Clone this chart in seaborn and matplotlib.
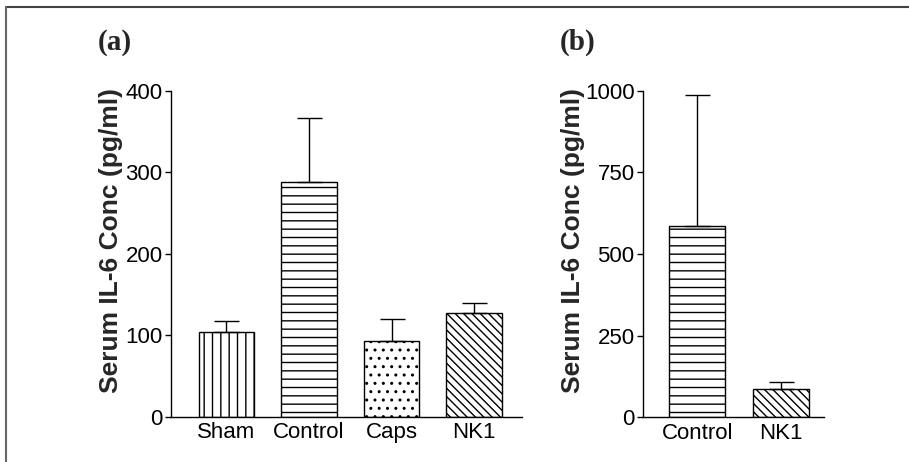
import matplotlib
matplotlib.use("Agg")
import matplotlib.pyplot as plt
import seaborn as sns
import pandas as pd
import numpy as np

# ---- data ----
groups_a = ["Sham", "Control", "Caps", "NK1"]
means_a = [104, 288, 93, 127]
upper_a = [118, 366, 120, 139]
hatches_a = ["||", "--", "..", "\\\\\\\\"]

groups_b = ["Control", "NK1"]
means_b = [586, 86]
upper_b = [988, 107]
hatches_b = ["--", "\\\\\\\\"]

yticks_a = [0, 100, 200, 300, 400]
yticks_b = [0, 250, 500, 750, 1000]
ylabel = "Serum IL-6 Conc (pg/ml)"

sns.set_theme(style="ticks")
plt.rcParams["font.family"] = ["Liberation Sans", "DejaVu Sans"]
plt.rcParams["hatch.linewidth"] = 1.0
plt.rcParams["hatch.color"] = "black"

fig = plt.figure(figsize=(9.09, 4.62), dpi=100)
fig.patch.set_facecolor("white")

ax_a = fig.add_axes([171 / 909, 45.3 / 462, 351 / 909, 326 / 462])
ax_b = fig.add_axes([643 / 909, 44.7 / 462, 181.3 / 909, 326.6 / 462])


def panel(ax, groups, means, upper, hatches, yticks, xlim, label_x):
    df = pd.DataFrame({"group": groups, "value": means})
    sns.barplot(data=df, x="group", y="value", order=groups, color="white",
                edgecolor="black", linewidth=1.0, width=0.67, ax=ax,
                errorbar=None, saturation=1)
    for patch, h in zip(ax.patches, hatches):
        patch.set_hatch(h)
        patch.set_facecolor("white")
        patch.set_edgecolor("black")
    xs = np.arange(len(groups))
    err = np.array(upper) - np.array(means)
    ax.errorbar(xs, means, yerr=[np.zeros(len(means)), err], fmt="none",
                ecolor="black", elinewidth=1.0, capsize=9, capthick=1.0,
                zorder=3)
    ax.set_ylim(yticks[0], yticks[-1])
    ax.set_yticks(yticks)
    ax.set_xlim(*xlim)
    ax.set_xlabel("")
    ax.set_ylabel(ylabel, fontsize=19, fontweight="bold", va="center")
    ax.yaxis.set_label_coords(label_x, 0.542)
    ax.tick_params(axis="y", length=4, width=1.0, labelsize=16, pad=2,
                   colors="black")
    ax.tick_params(axis="x", length=0, labelsize=16, pad=4, colors="black")
    for s in ["top", "right"]:
        ax.spines[s].set_visible(False)
    for s in ["left", "bottom"]:
        ax.spines[s].set_linewidth(1.0)
        ax.spines[s].set_color("black")
    ax.set_facecolor("white")


panel(ax_a, groups_a, means_a, upper_a, hatches_a, yticks_a, (-0.67, 3.58), -0.172)
panel(ax_b, groups_b, means_b, upper_b, hatches_b, yticks_b, (-0.65, 1.52), -0.385)

fig.text(115 / 909, 1 - 42 / 462, "(a)", ha="center", va="center", fontsize=21,
         fontweight="bold", family=["Liberation Serif", "DejaVu Serif"])
fig.text(578 / 909, 1 - 42 / 462, "(b)", ha="center", va="center", fontsize=21,
         fontweight="bold", family=["Liberation Serif", "DejaVu Serif"])

# outer frame (top and left edges visible in the crop)
fig.add_artist(plt.Line2D([6 / 909, 1.0], [1 - 6.5 / 462, 1 - 6.5 / 462],
                          transform=fig.transFigure, color="#444444", lw=1.5))
fig.add_artist(plt.Line2D([6 / 909, 6 / 909], [0.0, 1 - 6.5 / 462],
                          transform=fig.transFigure, color="#666666", lw=1.5))

fig.savefig("out.png", dpi=100, facecolor="white")
